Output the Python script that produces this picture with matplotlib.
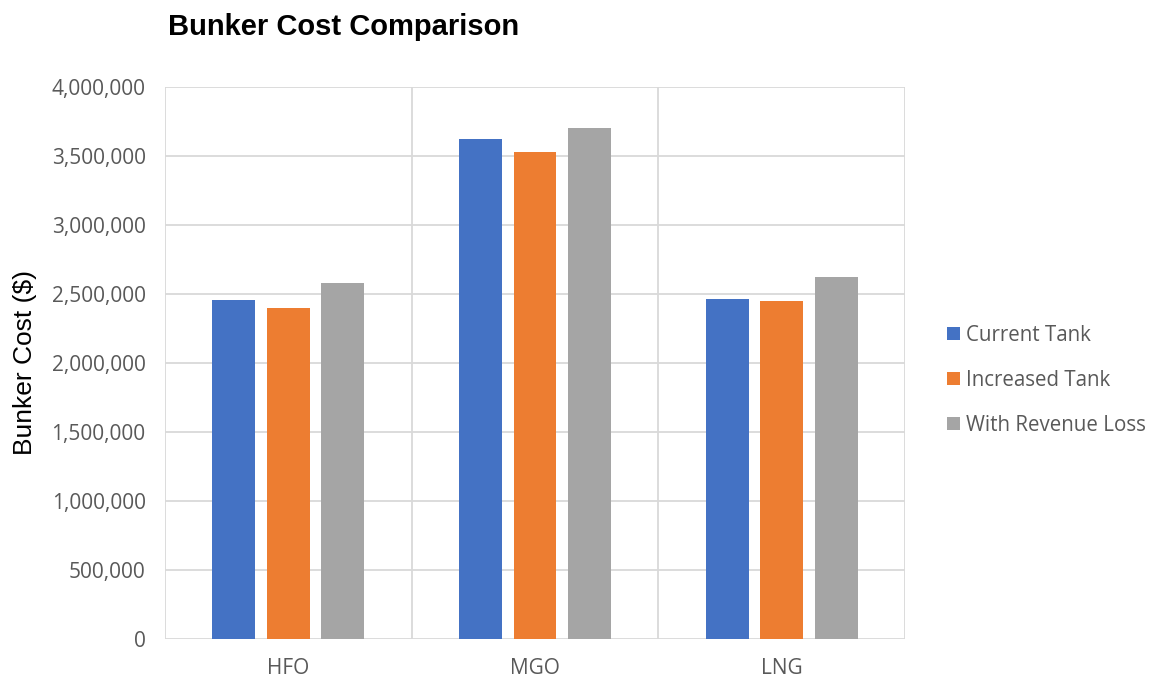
import matplotlib
matplotlib.use("Agg")
import matplotlib.pyplot as plt
import numpy as np
from matplotlib.ticker import FuncFormatter, MultipleLocator

categories = ["HFO", "MGO", "LNG"]
series_names = ["Current Tank", "Increased Tank", "With Revenue Loss"]
current_tank = [2454000, 3623000, 2464000]
increased_tank = [2398000, 3527000, 2447000]
with_revenue_loss = [2577000, 3703000, 2621000]
colors = ["#4472C4", "#ED7D31", "#A5A5A5"]

fig = plt.figure(figsize=(11.58, 6.8), dpi=100)
ax = fig.add_axes([0.1425, 0.0607, 0.639, 0.8118])

x = np.arange(len(categories))
width = 0.174
step = 0.221
for i, (vals, name, c) in enumerate(zip([current_tank, increased_tank, with_revenue_loss], series_names, colors)):
    ax.bar(x + (i - 1) * step, vals, width, color=c, label=name, zorder=3)

ax.set_xlim(-0.5, len(categories) - 0.5)
ax.set_ylim(0, 4000000)
ax.yaxis.set_major_locator(MultipleLocator(500000))
ax.yaxis.set_major_formatter(FuncFormatter(lambda v, p: f"{int(v):,}"))

# Category boundaries drawn as vertical gridlines
for b in np.arange(-0.5, len(categories), 1.0):
    ax.axvline(b, color="#D9D9D9", lw=1.3, zorder=1)
ax.yaxis.grid(True, color="#D9D9D9", lw=1.3, zorder=1)
for s in ax.spines.values():
    s.set_visible(False)

ax.set_xticks(x)
ax.set_xticklabels(categories)
ax.tick_params(axis="both", length=0, labelsize=15, labelcolor="#595959")
ax.tick_params(axis="x", pad=14)
ax.tick_params(axis="y", pad=14)
for lbl in ax.get_xticklabels() + ax.get_yticklabels():
    lbl.set_family("Open Sans")

ax.set_ylabel("Bunker Cost ($)", fontsize=19, family="Liberation Sans", color="black")
ax.yaxis.set_label_coords(-0.173, 0.5)

fig.text(0.145, 0.96, "Bunker Cost Comparison", fontsize=21, fontweight="bold",
         family="Liberation Sans", va="center", ha="left")

leg = ax.legend(loc="center left", bbox_to_anchor=(1.046, 0.468), frameon=False,
                prop={"family": "Open Sans", "size": 14.8}, handlelength=0.6, handleheight=0.6,
                handletextpad=0.3, labelspacing=1.17, borderaxespad=0)
for t in leg.get_texts():
    t.set_color("#595959")

fig.savefig("out.png", dpi=100)
